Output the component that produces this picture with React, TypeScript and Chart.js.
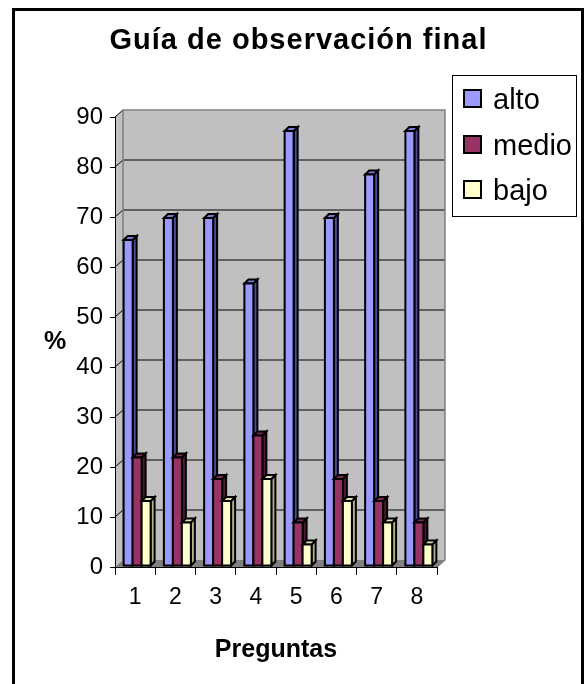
import React, { useEffect, useRef } from "react";
import { Chart, registerables } from "chart.js";

Chart.register(...registerables);

// ---- data ----
const categories = ["1", "2", "3", "4", "5", "6", "7", "8"];
const seriesNames = ["alto", "medio", "bajo"];
const alto = [65.2, 69.6, 69.6, 56.5, 87.0, 69.6, 78.3, 87.0];
const medio = [21.7, 21.7, 17.4, 26.1, 8.7, 17.4, 13.0, 8.7];
const bajo = [13.0, 8.7, 13.0, 17.4, 4.3, 13.0, 8.7, 4.3];
const yMin = 0;
const yMax = 90;
const yStep = 10;
const chartTitle = "Guía de observación final";
const xTitle = "Preguntas";
const yTitle = "%";

// ---- styles ----
const FONT = "'Liberation Sans', Arial, sans-serif";
const frontColors = ["#9999FF", "#993366", "#FFFFCC"];
const sideColors = ["#4D4D99", "#4D1A33", "#B3B38F"];
const topColors = ["#7A7AD6", "#7A2952", "#E0E0B3"];
const DX = 8;
const DY = 7;
const BDX = 4;
const BDY = 4;
const SHIFT_X = 2; // bars sit in the middle of the 3D depth
const SHIFT_Y = -1;

const poly = (ctx: CanvasRenderingContext2D, pts: number[][]) => {
  ctx.beginPath();
  ctx.moveTo(pts[0][0], pts[0][1]);
  for (let i = 1; i < pts.length; i++) ctx.lineTo(pts[i][0], pts[i][1]);
  ctx.closePath();
};

const wall3d = {
  id: "wall3d",
  beforeDraw(chart: any) {
    const { ctx, chartArea } = chart;
    const { left, right, bottom } = chartArea;
    const ys = chart.scales.y;
    const yTop = ys.getPixelForValue(yMax);
    ctx.save();
    ctx.fillStyle = "#C0C0C0";
    poly(ctx, [[left, bottom], [left, yTop], [left + DX, yTop - DY], [left + DX, bottom - DY]]);
    ctx.fill();
    ctx.fillRect(left + DX, yTop - DY, right - left, bottom - yTop);
    ctx.fillStyle = "#808080";
    poly(ctx, [[left, bottom], [right, bottom], [right + DX, bottom - DY], [left + DX, bottom - DY]]);
    ctx.fill();
    ctx.strokeStyle = "#000";
    ctx.lineWidth = 1;
    ys.ticks.forEach((t: any) => {
      const v = t.value;
      const py = ys.getPixelForValue(v);
      if (v <= yMin) return;
      ctx.beginPath();
      ctx.moveTo(left, py);
      ctx.lineTo(left + DX, py - DY);
      if (v < yMax) ctx.lineTo(right + DX, py - DY);
      ctx.stroke();
    });
    ctx.strokeStyle = "#808080";
    ctx.lineWidth = 1.5;
    ctx.beginPath();
    ctx.moveTo(left + DX, bottom - DY);
    ctx.lineTo(left + DX, yTop - DY);
    ctx.lineTo(right + DX, yTop - DY);
    ctx.lineTo(right + DX, bottom - DY);
    ctx.lineTo(right, bottom);
    ctx.stroke();
    ctx.restore();
  },
  afterDatasetsDraw(chart: any) {
    const { ctx } = chart;
    const n = chart.data.labels.length;
    ctx.save();
    ctx.lineWidth = 2;
    ctx.lineJoin = "miter";
    ctx.strokeStyle = "#000";
    for (let i = 0; i < n; i++) {
      for (let d = 0; d < chart.data.datasets.length; d++) {
        const el = chart.getDatasetMeta(d).data[i];
        if (!el) continue;
        const p = el.getProps(["x", "y", "base", "width"], true);
        const x = p.x + SHIFT_X;
        const y = p.y + SHIFT_Y;
        const base = p.base + SHIFT_Y;
        const width = p.width;
        const l = x - width / 2;
        const r = x + width / 2;
        ctx.fillStyle = sideColors[d];
        poly(ctx, [[r, y], [r + BDX, y - BDY], [r + BDX, base - BDY], [r, base]]);
        ctx.fill();
        ctx.stroke();
        ctx.fillStyle = topColors[d];
        poly(ctx, [[l, y], [l + BDX, y - BDY], [r + BDX, y - BDY], [r, y]]);
        ctx.fill();
        ctx.stroke();
        ctx.fillStyle = frontColors[d];
        ctx.fillRect(l, y, width, base - y);
        ctx.strokeRect(l, y, width, base - y);
      }
    }
    ctx.restore();
  },
};

export default function App() {
  const canvasRef = useRef<HTMLCanvasElement | null>(null);

  useEffect(() => {
    if (!canvasRef.current) return;
    Chart.defaults.font.family = FONT;
    Chart.defaults.color = "#000";
    const chart = new Chart(canvasRef.current, {
      type: "bar",
      data: {
        labels: categories,
        datasets: [alto, medio, bajo].map((vals, k) => ({
          label: seriesNames[k],
          data: vals,
          backgroundColor: "rgba(0,0,0,0)",
          borderWidth: 0,
          categoryPercentage: 0.67,
          barPercentage: 1,
        })),
      },
      options: {
        responsive: false,
        animation: false,
        devicePixelRatio: 1,
        layout: { padding: { left: 0, top: 117, right: 151, bottom: 0 } },
        plugins: {
          legend: { display: false },
          title: { display: false },
          tooltip: { enabled: false },
        },
        scales: {
          x: {
            grid: { display: true, drawOnChartArea: false, tickLength: 8, color: "#000", lineWidth: 1, offset: true },
            border: { display: true, color: "#000", width: 1 },
            ticks: { color: "#000", font: { family: FONT, size: 23 }, padding: 9, maxRotation: 0, autoSkip: false },
            title: {
              display: true,
              text: xTitle,
              color: "#000",
              font: { family: FONT, size: 25, weight: "bold" },
              padding: { top: 0, bottom: 19 },
            },
            afterFit: (s: any) => {
              s.height = 117;
            },
          },
          y: {
            min: yMin,
            max: yMax,
            ticks: { stepSize: yStep, color: "#000", font: { family: FONT, size: 24 }, padding: 7 },
            grid: { display: true, drawOnChartArea: false, tickLength: 5, color: "#000", lineWidth: 1 },
            border: { display: true, color: "#000", width: 1 },
            afterFit: (s: any) => {
              s.width = 115;
            },
          },
        },
      },
      plugins: [wall3d],
    } as any);
    return () => chart.destroy();
  }, []);

  const legendTops = [89, 135, 180];
  const legendTextTops = [84.5, 130.5, 175.5];

  return (
    <div style={{ position: "fixed", left: 0, top: 0, width: 588, height: 684, overflow: "hidden", background: "#fff", fontFamily: FONT }}>
      <canvas ref={canvasRef} width={588} height={684} style={{ position: "absolute", left: 0, top: 0, width: 588, height: 684 }} />
      <div style={{ position: "absolute", left: 12, top: 8, width: 572, height: 700, border: "3px solid #000", boxSizing: "border-box", pointerEvents: "none" }} />
      <div style={{ position: "absolute", left: 0, top: 24.5, width: 597, textAlign: "center", fontSize: 29, lineHeight: "29px", fontWeight: "bold", letterSpacing: 1, color: "#000", whiteSpace: "nowrap" }}>
        {chartTitle}
      </div>
      <div style={{ position: "absolute", left: 30, top: 327.8, width: 50, textAlign: "center", fontSize: 25, lineHeight: "25px", fontWeight: "bold", color: "#000" }}>
        {yTitle}
      </div>
      <div style={{ position: "absolute", left: 452, top: 75, width: 125, height: 142, border: "1px solid #000", boxSizing: "border-box", background: "#fff" }} />
      {seriesNames.map((name, k) => (
        <React.Fragment key={name}>
          <div style={{ position: "absolute", left: 463, top: legendTops[k], width: 19, height: 19, border: "2px solid #000", boxSizing: "border-box", background: frontColors[k] }} />
          <div style={{ position: "absolute", left: 493, top: legendTextTops[k], fontSize: 29, lineHeight: "29px", color: "#000", whiteSpace: "nowrap" }}>
            {name}
          </div>
        </React.Fragment>
      ))}
    </div>
  );
}
